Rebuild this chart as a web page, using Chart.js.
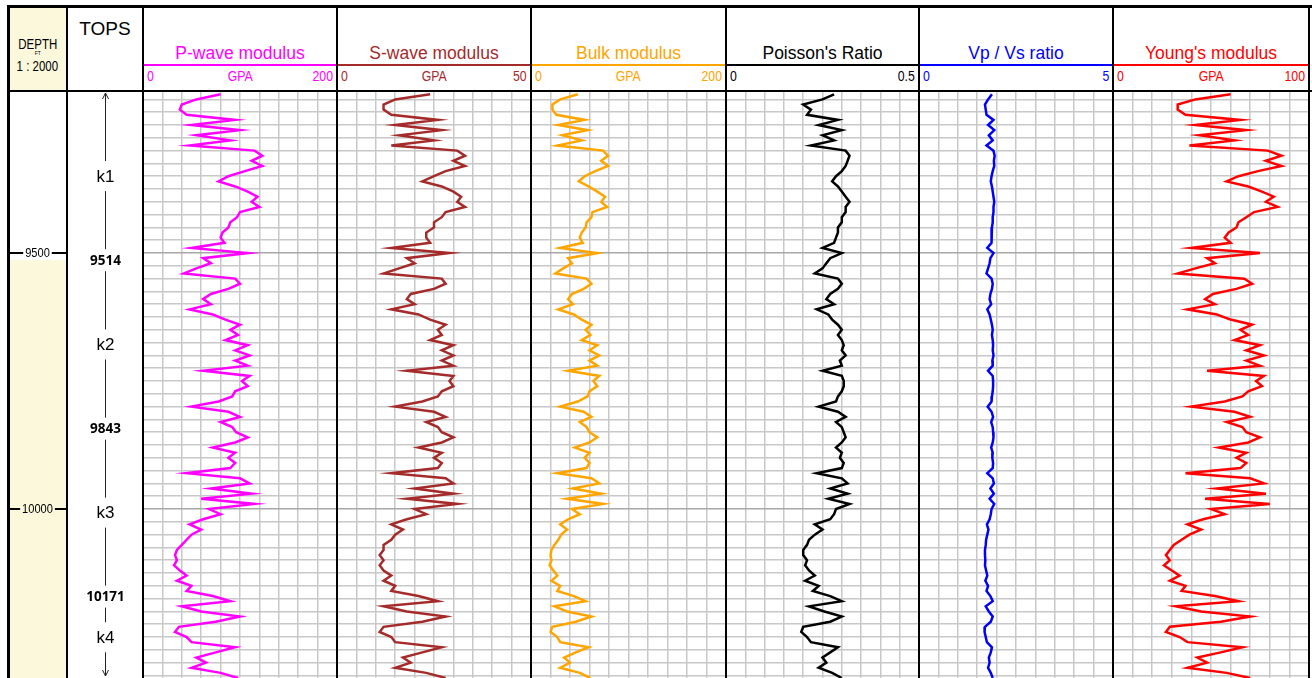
<!DOCTYPE html>
<html>
<head>
<meta charset="utf-8">
<script src="https://cdn.jsdelivr.net/npm/chart.js@4.4.1/dist/chart.umd.min.js"></script>
<style>
  body { margin: 0; background: #fff; }
  #page { position: relative; width: 1312px; height: 678px; overflow: hidden; background: #fff; font-family: "Liberation Sans", Arial, sans-serif; }
  .abs { position: absolute; }
  .nar { display: inline-block; transform: scaleX(0.82); }
  canvas { position: absolute; top: 92px; }
</style>
</head>
<body>
<div id="page"></div>
<script>
// sample depths (ft) shared by every curve
const depthFt = [
  9190, 9200, 9210, 9220, 9230, 9240, 9250, 9260, 9270, 9280, 9290,
  9300, 9310, 9320, 9330, 9340, 9350, 9360, 9370, 9380, 9390,
  9400, 9410, 9420, 9430, 9440, 9450, 9460, 9470, 9480, 9490,
  9500, 9510, 9520, 9530, 9540, 9550, 9560, 9570, 9580, 9590,
  9600, 9610, 9620, 9630, 9640, 9650, 9660, 9670, 9680, 9690,
  9700, 9710, 9720, 9730, 9740, 9750,
  9760, 9770, 9780, 9790, 9800, 9810, 9820, 9830, 9840, 9850,
  9860, 9870, 9880, 9890, 9900, 9910, 9920, 9930, 9940, 9950,
  9960, 9970, 9980, 9990, 10000, 10010, 10020, 10030, 10040, 10050,
  10060, 10070, 10080, 10090, 10100, 10110, 10120, 10130, 10140, 10150,
  10160, 10170, 10180, 10190, 10200, 10210, 10220, 10230, 10240, 10250,
  10260, 10270, 10280, 10290, 10300, 10310, 10320, 10330
];

// P-wave modulus, GPa
const pWave = [
  80, 55, 40, 38, 45, 95, 50, 100, 55, 90, 48,
  115, 123, 112, 123, 105, 88, 78, 95, 108, 118,
  112, 120, 100, 97, 90, 88, 82, 80, 84, 50,
  108, 62, 70, 55, 42, 95, 100, 88, 70, 62,
  70, 48, 72, 85, 100, 90, 98, 85, 108, 95,
  110, 95, 108, 62, 110, 102,
  108, 95, 92, 78, 50, 88, 100, 80, 92, 96,
  108, 95, 72, 95, 88, 95, 90, 45, 100, 110,
  70, 112, 60, 115, 68, 80, 62, 48, 60, 50,
  45, 40, 35, 33, 35, 32, 38, 45, 35, 50,
  45, 72, 90, 40, 60, 100, 75, 37, 33, 45,
  50, 95, 75, 55, 65, 50, 80, 98
];

// S-wave modulus, GPa
const sWave = [
  24, 15, 12, 12, 14, 26, 15, 27, 16, 25, 14,
  31, 33, 30, 33, 28, 25, 22, 27, 30, 32,
  31, 33, 28, 27, 25, 25, 23, 23, 24, 14,
  29, 18, 20, 16, 12, 27, 28, 25, 19, 18,
  20, 14, 21, 24, 28, 26, 27, 24, 30, 27,
  30, 27, 30, 18, 30, 29,
  30, 27, 26, 22, 15, 25, 28, 23, 26, 27,
  30, 27, 21, 27, 25, 27, 26, 14, 28, 30,
  20, 30, 18, 31, 20, 23, 18, 14, 17, 15,
  14, 12, 12, 11, 12, 11, 12, 14, 12, 15,
  14, 21, 26, 12, 18, 28, 22, 12, 11, 14,
  15, 27, 22, 17, 19, 15, 23, 28
];

// bulk modulus, GPa
const bulk = [
  48, 30, 22, 22, 26, 55, 28, 58, 32, 52, 27,
  74, 79, 72, 79, 66, 55, 49, 59, 68, 76,
  72, 78, 63, 62, 57, 56, 52, 50, 53, 30,
  68, 38, 42, 33, 25, 57, 62, 54, 42, 38,
  43, 28, 44, 52, 62, 56, 61, 52, 68, 60,
  70, 60, 68, 38, 70, 64,
  68, 60, 58, 48, 30, 54, 62, 50, 57, 60,
  68, 60, 45, 60, 55, 60, 57, 27, 62, 70,
  43, 72, 37, 74, 42, 50, 38, 30, 37, 31,
  28, 24, 21, 20, 21, 19, 23, 27, 21, 30,
  27, 44, 56, 24, 37, 62, 46, 22, 20, 27,
  30, 59, 46, 34, 40, 30, 50, 61
];

// Poisson's ratio
const poisson = [
  0.28, 0.25, 0.20, 0.22, 0.21, 0.29, 0.24, 0.30, 0.25, 0.28, 0.22,
  0.31, 0.32, 0.315, 0.31, 0.30, 0.285, 0.275, 0.29, 0.30, 0.31,
  0.32, 0.31, 0.31, 0.30, 0.30, 0.29, 0.29, 0.285, 0.28, 0.25,
  0.30, 0.27, 0.26, 0.25, 0.23, 0.29, 0.30, 0.29, 0.27, 0.26,
  0.28, 0.235, 0.265, 0.275, 0.29, 0.30, 0.29, 0.30, 0.305, 0.30,
  0.31, 0.295, 0.30, 0.25, 0.30, 0.305,
  0.305, 0.30, 0.29, 0.285, 0.24, 0.29, 0.31, 0.285, 0.30, 0.305,
  0.31, 0.30, 0.285, 0.30, 0.295, 0.305, 0.30, 0.235, 0.30, 0.315,
  0.27, 0.315, 0.265, 0.32, 0.285, 0.28, 0.27, 0.23, 0.25, 0.23,
  0.215, 0.21, 0.20, 0.20, 0.21, 0.205, 0.215, 0.23, 0.205, 0.24,
  0.225, 0.27, 0.30, 0.215, 0.255, 0.30, 0.27, 0.20, 0.195, 0.21,
  0.22, 0.29, 0.27, 0.25, 0.26, 0.24, 0.275, 0.30
];

// Vp / Vs
const vpVs = [
  1.88, 1.78, 1.70, 1.72, 1.74, 1.92, 1.78, 1.94, 1.80, 1.90, 1.74,
  1.92, 1.95, 1.93, 1.94, 1.90, 1.87, 1.85, 1.88, 1.90, 1.92,
  1.94, 1.92, 1.92, 1.90, 1.90, 1.88, 1.88, 1.87, 1.86, 1.76,
  1.92, 1.84, 1.82, 1.78, 1.74, 1.87, 1.90, 1.88, 1.84, 1.82,
  1.86, 1.76, 1.82, 1.85, 1.88, 1.90, 1.88, 1.90, 1.91, 1.90,
  1.92, 1.89, 1.90, 1.78, 1.90, 1.91,
  1.91, 1.90, 1.88, 1.87, 1.77, 1.87, 1.91, 1.86, 1.90, 1.91,
  1.92, 1.90, 1.86, 1.90, 1.89, 1.91, 1.90, 1.76, 1.90, 1.93,
  1.84, 1.93, 1.82, 1.94, 1.87, 1.85, 1.82, 1.75, 1.79, 1.76,
  1.73, 1.72, 1.70, 1.70, 1.71, 1.70, 1.73, 1.76, 1.71, 1.78,
  1.74, 1.84, 1.90, 1.72, 1.80, 1.90, 1.85, 1.70, 1.69, 1.72,
  1.75, 1.88, 1.85, 1.80, 1.82, 1.78, 1.85, 1.90
];

// Young's modulus, GPa
const youngs = [
  60, 42, 33, 33, 37, 65, 42, 68, 44, 62, 39,
  79, 86, 78, 86, 74, 64, 58, 69, 76, 82,
  78, 84, 72, 68, 64, 63, 59, 57, 60, 40,
  75, 48, 52, 42, 33, 67, 71, 63, 51, 47,
  52, 38, 53, 60, 71, 65, 69, 62, 75, 68,
  77, 68, 75, 48, 77, 73,
  76, 69, 66, 57, 40, 62, 70, 58, 66, 68,
  75, 69, 54, 68, 63, 68, 65, 37, 70, 77,
  53, 78, 47, 80, 50, 57, 46, 38, 45, 39,
  35, 31, 29, 27, 29, 26, 30, 34, 29, 37,
  35, 52, 64, 32, 45, 70, 55, 29, 27, 34,
  38, 66, 55, 43, 48, 38, 58, 70
];

const depthMarks = [9500, 10000];
const topNames = ['k1', 'k2', 'k3', 'k4'];
const topDepths = [9514, 9843, 10171];

const DEPTH_MIN = 9185.5;
const DEPTH_MAX = 10330;

// column edges across the page
const cols = [8, 67, 143, 337, 531, 726, 919, 1113, 1309];

const tracks = [
  { title: 'P-wave modulus', unit: 'GPA', min: 0, max: 200, color: '#ff00ff', values: pWave },
  { title: 'S-wave modulus', unit: 'GPA', min: 0, max: 50, color: '#a52a2a', values: sWave },
  { title: 'Bulk modulus', unit: 'GPA', min: 0, max: 200, color: '#ffa500', values: bulk },
  { title: "Poisson's Ratio", unit: '', min: 0, max: 0.5, color: '#000000', values: poisson },
  { title: 'Vp / Vs ratio', unit: '', min: 0, max: 5, color: '#0000ff', values: vpVs },
  { title: "Young's modulus", unit: 'GPA', min: 0, max: 100, color: '#ff0000', values: youngs }
];

const BEIGE = '#fbf8dc';
const page = document.getElementById('page');
function box(css, html) {
  const d = document.createElement('div');
  d.className = 'abs';
  d.style.cssText = css;
  if (html !== undefined) d.innerHTML = html;
  page.appendChild(d);
  return d;
}
// condensed text, squeezed towards the given side
const nar = (txt, origin) => `<span class="nar" style="transform-origin:${origin || 'center'}">${txt}</span>`;

// header cells
box(`left:9px;top:8px;width:57px;height:82px;background:${BEIGE};`);
box('left:9px;top:37px;width:57px;text-align:center;font-size:14px;line-height:14px;', nar('DEPTH'));
box('left:9px;top:50px;width:57px;text-align:center;font-size:6px;line-height:6px;', nar('FT'));
box('left:9px;top:59px;width:57px;text-align:center;font-size:14px;line-height:14px;', nar('1 : 2000'));
box('left:67px;top:19px;width:76px;text-align:center;font-size:19px;line-height:19px;', 'TOPS');

tracks.forEach((t, i) => {
  const left = cols[i + 2], w = cols[i + 3] - left;
  box(`left:${left}px;top:44px;width:${w}px;text-align:center;font-size:17.5px;line-height:18px;color:${t.color};`, t.title);
  box(`left:${left}px;top:64px;width:${w}px;height:2px;background:${t.color};`);
  box(`left:${left + 4}px;top:68px;width:${w - 8}px;height:16px;font-size:15px;line-height:15px;color:${t.color};`,
    `<span style="position:absolute;left:0">${nar(String(t.min), 'left')}</span>` +
    `<span style="position:absolute;left:0;right:0;text-align:center">${nar(t.unit)}</span>` +
    `<span style="position:absolute;right:0">${nar(String(t.max), 'right')}</span>`);
});

// frame lines
const frame = 'background:#000;z-index:5;';
box(`left:7px;top:5px;width:1305px;height:3px;${frame}`);
box(`left:7px;top:90px;width:1305px;height:2px;${frame}`);
cols.forEach((x, i) => {
  const w = (i === 0) ? 3 : 2;
  box(`left:${x - 1}px;top:5px;width:${w}px;height:673px;${frame}`);
});

function makeCanvas(i) {
  const c = document.createElement('canvas');
  c.width = cols[i + 1] - cols[i];
  c.height = 586;
  c.style.left = cols[i] + 'px';
  page.appendChild(c);
  return c.getContext('2d');
}

const gridDepths = [];
for (let d = 9200; d <= 10325; d += 25) gridDepths.push(d);

const blankAxes = () => ({
  x: { type: 'linear', display: false, min: 0, max: 1 },
  y: { type: 'linear', display: false, reverse: true, min: DEPTH_MIN, max: DEPTH_MAX }
});
const baseOptions = {
  responsive: false,
  animation: false,
  events: [],
  layout: { padding: 0 },
  plugins: { legend: { display: false }, tooltip: { enabled: false } }
};

// depth column: white above the first top, cream below, depth labels with side ticks
new Chart(makeCanvas(0), {
  type: 'scatter',
  data: { datasets: [] },
  options: { ...baseOptions, scales: blankAxes() },
  plugins: [{
    id: 'depthColumn',
    beforeDraw(chart) {
      const { ctx, chartArea: a, scales: { y } } = chart;
      const y0 = y.getPixelForValue(topDepths[0]);
      ctx.save();
      ctx.fillStyle = '#fff';
      ctx.fillRect(0, 0, chart.width, chart.height);
      ctx.fillStyle = BEIGE;
      ctx.fillRect(a.left, y0, a.width, a.bottom - y0);
      ctx.restore();
    },
    afterDraw(chart) {
      const { ctx, chartArea: a, scales: { y } } = chart;
      ctx.save();
      ctx.font = '13.5px "Liberation Sans", Arial, sans-serif';
      ctx.textAlign = 'center';
      ctx.textBaseline = 'middle';
      ctx.fillStyle = '#000';
      const cx = (a.left + a.right) / 2;
      depthMarks.forEach(d => {
        const py = Math.round(y.getPixelForValue(d));
        const tw = ctx.measureText(String(d)).width * 0.82;
        ctx.fillRect(a.left, py - 1, cx - tw / 2 - 2 - a.left, 2);
        ctx.fillRect(cx + tw / 2 + 2, py - 1, a.right - (cx + tw / 2 + 2), 2);
        ctx.save();
        ctx.translate(cx, py + 0.5);
        ctx.scale(0.82, 1);
        ctx.fillText(String(d), 0, 0);
        ctx.restore();
      });
      ctx.restore();
    }
  }]
});

// tops column: zone names between tops, arrowed line through them
new Chart(makeCanvas(1), {
  type: 'scatter',
  data: { datasets: [] },
  options: { ...baseOptions, scales: blankAxes() },
  plugins: [{
    id: 'topsColumn',
    afterDraw(chart) {
      const { ctx, chartArea: a, scales: { y } } = chart;
      const cx = Math.round((a.left + a.right) / 2) + 0.5;
      const bounds = [DEPTH_MIN, ...topDepths, DEPTH_MAX];
      const labels = [];
      topNames.forEach((n, i) => {
        labels.push({ text: n, y: y.getPixelForValue((bounds[i] + bounds[i + 1]) / 2), gap: 15, bold: false });
        if (i < topDepths.length) labels.push({ text: String(topDepths[i]), y: y.getPixelForValue(topDepths[i]), gap: 11, bold: true });
      });
      const top = a.top + 1, bot = y.getPixelForValue(DEPTH_MAX) - 2;
      ctx.save();
      ctx.strokeStyle = '#222';
      ctx.lineWidth = 1;
      let start = top;
      labels.forEach(l => {
        ctx.beginPath();
        ctx.moveTo(cx, start);
        ctx.lineTo(cx, l.y - l.gap);
        ctx.stroke();
        start = l.y + l.gap;
      });
      ctx.beginPath();
      ctx.moveTo(cx, start);
      ctx.lineTo(cx, bot);
      ctx.stroke();
      // arrow heads at both ends
      ctx.beginPath();
      ctx.moveTo(cx - 3, top + 6); ctx.lineTo(cx, top); ctx.lineTo(cx + 3, top + 6);
      ctx.moveTo(cx - 3, bot - 6); ctx.lineTo(cx, bot); ctx.lineTo(cx + 3, bot - 6);
      ctx.stroke();
      ctx.fillStyle = '#000';
      ctx.textAlign = 'center';
      ctx.textBaseline = 'middle';
      labels.forEach(l => {
        ctx.font = l.bold ? 'bold 13.5px "Open Sans", sans-serif' : '17px "Liberation Sans", Arial, sans-serif';
        ctx.fillText(l.text, cx, l.y + 1);
      });
      ctx.restore();
    }
  }]
});

// one line chart per log track
tracks.forEach((t, i) => {
  const step = (t.max - t.min) / 10;
  new Chart(makeCanvas(i + 2), {
    type: 'line',
    data: {
      datasets: [{
        data: t.values.map((v, k) => ({ x: v, y: depthFt[k] })),
        borderColor: t.color,
        borderWidth: 2.5,
        pointRadius: 0,
        tension: 0
      }]
    },
    options: {
      ...baseOptions,
      scales: {
        x: {
          type: 'linear', min: t.min, max: t.max,
          afterBuildTicks: s => { s.ticks = Array.from({ length: 11 }, (_, k) => ({ value: t.min + k * step })); },
          ticks: { display: false },
          grid: { color: '#c8c8c8', lineWidth: 1.5, drawTicks: false },
          border: { display: false }
        },
        y: {
          type: 'linear', reverse: true, min: DEPTH_MIN, max: DEPTH_MAX,
          afterBuildTicks: s => { s.ticks = gridDepths.map(v => ({ value: v })); },
          ticks: { display: false },
          grid: { color: c => (c.tick && c.tick.value % 500 === 0) ? '#a8a8a8' : '#c8c8c8', lineWidth: 1.5, drawTicks: false },
          border: { display: false }
        }
      }
    }
  });
});
</script>
</body>
</html>
